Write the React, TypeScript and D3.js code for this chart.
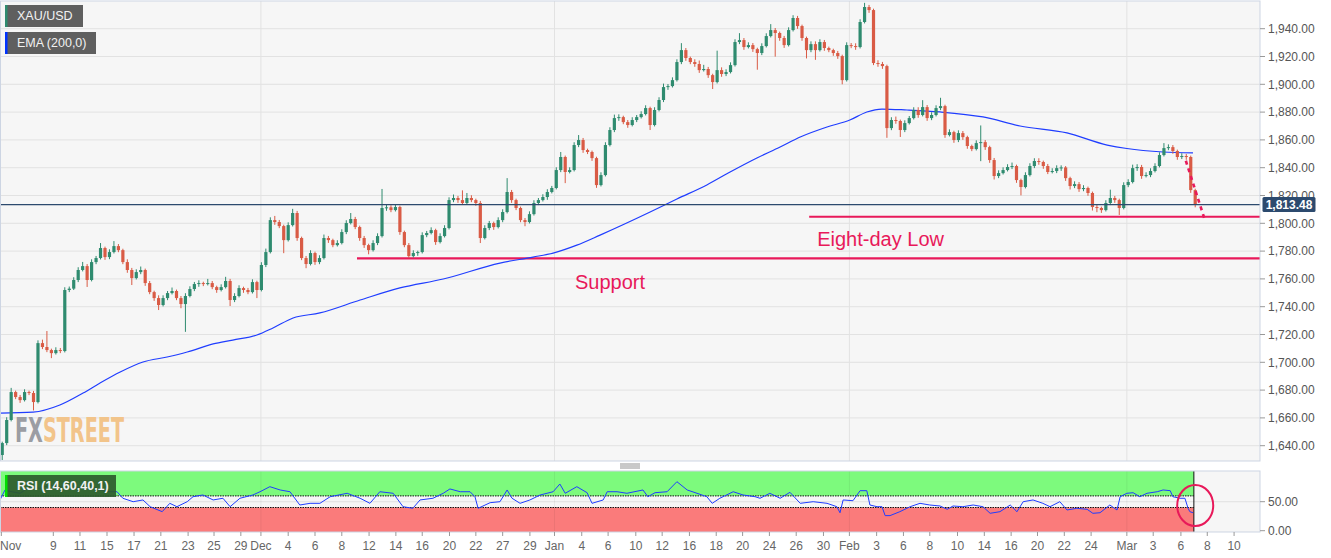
import React from 'react';
import * as d3 from 'd3';

// ---------- DATA ----------
const firstOpen = 1633.3;
const closes = [
  1641.9, 1658.5, 1678.6, 1675.0, 1672.8, 1678.6, 1677.9, 1671.4, 1713.8, 1711.0,
  1708.8, 1706.6, 1708.8, 1708.1, 1752.0, 1753.0, 1759.2, 1766.4, 1769.2, 1759.2,
  1772.1, 1775.0, 1782.2, 1775.7, 1779.3, 1783.6, 1780.7, 1772.1, 1766.4, 1760.6,
  1764.9, 1766.4, 1757.0, 1750.5, 1746.2, 1741.2, 1746.2, 1749.8, 1751.3, 1746.2,
  1741.9, 1747.7, 1752.7, 1756.3, 1757.0, 1756.3, 1757.0, 1754.1, 1752.0, 1754.1,
  1758.5, 1744.8, 1747.7, 1753.4, 1752.0, 1750.5, 1757.7, 1752.0, 1770.0, 1779.3,
  1802.3, 1800.9, 1798.0, 1787.9, 1798.7, 1807.4, 1789.4, 1775.0, 1770.7, 1778.6,
  1772.1, 1775.0, 1789.4, 1787.9, 1784.3, 1785.8, 1793.7, 1800.2, 1803.1, 1797.3,
  1789.4, 1784.3, 1780.7, 1785.8, 1790.8, 1811.0, 1811.5, 1809.5, 1811.7, 1793.7,
  1784.3, 1776.4, 1778.6, 1779.3, 1791.5, 1793.0, 1795.1, 1786.5, 1790.8, 1796.6,
  1816.7, 1818.2, 1816.7, 1814.6, 1818.2, 1816.7, 1814.6, 1789.4, 1796.6, 1800.2,
  1797.3, 1802.3, 1808.1, 1822.5, 1816.7, 1811.0, 1802.3, 1800.9, 1806.6, 1814.6,
  1816.7, 1818.9, 1822.5, 1825.4, 1838.3, 1847.7, 1836.9, 1838.3, 1856.3, 1859.9,
  1852.7, 1851.3, 1846.9, 1827.5, 1834.7, 1856.3, 1867.1, 1875.7, 1876.4, 1872.8,
  1870.7, 1874.3, 1876.4, 1878.6, 1882.9, 1870.7, 1881.5, 1888.7, 1898.0, 1898.7,
  1903.0, 1916.0, 1924.6, 1918.9, 1916.0, 1914.6, 1910.2, 1911.0, 1906.6, 1901.6,
  1910.2, 1907.4, 1908.8, 1913.8, 1930.4, 1931.8, 1926.8, 1928.2, 1925.3, 1922.5,
  1927.5, 1934.7, 1939.0, 1936.9, 1933.3, 1928.2, 1939.0, 1947.7, 1941.9, 1933.3,
  1924.6, 1928.9, 1924.6, 1930.4, 1926.1, 1924.6, 1922.5, 1920.3, 1903.0, 1928.2,
  1927.5, 1926.8, 1944.8, 1955.6, 1953.4, 1915.3, 1914.6, 1913.1, 1868.5, 1874.3,
  1873.6, 1867.1, 1872.1, 1875.7, 1881.5, 1877.9, 1883.6, 1875.7, 1877.9, 1882.9,
  1884.3, 1863.5, 1865.6, 1859.9, 1864.9, 1862.0, 1855.6, 1853.4, 1857.7, 1858.4,
  1854.8, 1845.5, 1834.0, 1836.1, 1838.3, 1840.5, 1841.2, 1831.1, 1826.1, 1834.7,
  1841.2, 1844.8, 1844.1, 1841.2, 1836.9, 1837.6, 1839.7, 1840.2, 1832.5, 1826.8,
  1828.2, 1824.6, 1825.4, 1821.8, 1811.7, 1811.0, 1809.5, 1814.6, 1818.2, 1816.7,
  1811.0, 1827.5, 1829.7, 1839.7, 1840.5, 1834.0, 1834.7, 1837.6, 1841.2, 1849.1,
  1854.1, 1854.8, 1852.0, 1847.7, 1848.4, 1847.7, 1823.9, 1813.5,
];
const wickUp = [
  1, 2, 3, 1, 1.5, 2, 1, 1.5, 2, 2.5, 11.5, 1, 2, 1.5, 2, 1.5, 2, 2, 3, 1.5,
  2, 1.5, 3.6, 1, 2, 3.6, 1.5, 1, 2, 1.5, 2, 2.5, 1, 1.5, 1, 2, 2, 1.5, 2.5, 1,
  1.5, 2, 2, 1.5, 2, 1, 3, 1.5, 1, 2, 3, 1.5, 2, 2, 1, 1.5, 2, 1, 2, 2.5,
  2, 3, 1.5, 1, 2, 3, 1.5, 1, 1.5, 2, 1, 2, 2.5, 1.5, 1, 2, 2, 2, 4.3, 1.5,
  1, 1.5, 1, 2, 2, 13.7, 2, 1.5, 2, 1, 1, 1.5, 2, 1, 2, 1.5, 2, 1, 2, 2,
  2, 2.5, 1.5, 7, 3.6, 2, 1, 1.5, 2, 1.5, 1, 2, 2, 10, 1.5, 1, 1, 1.5, 2, 2,
  1.5, 2, 2, 1.5, 2, 3.6, 1, 2, 2, 3.6, 1.5, 1, 1, 1, 2, 2, 2, 2.5, 2, 1,
  1.5, 2, 1.5, 2, 2, 1, 2, 2, 2.5, 1.5, 2, 2, 5, 1.5, 1, 2, 2.5, 3, 1.5, 1,
  14, 2, 2, 2, 2, 5, 1.5, 2, 1.5, 1, 2, 2, 4.3, 1.5, 1, 1.5, 2, 2, 1.5, 1,
  1, 2, 2, 2, 1.5, 1, 1, 1.5, 1, 2, 1.5, 2, 2, 3, 1.5, 1, 2, 1.5, 1, 2,
  2.5, 1, 2, 1.5, 2, 2, 5, 1.5, 2, 2, 6, 1, 2, 1, 2, 1.5, 1, 1, 2, 12,
  1.5, 1, 1.5, 2, 2, 2, 2.5, 1, 1, 2, 2, 2, 2, 1, 1.5, 2, 2, 1.5, 1, 1,
  2, 1.5, 2, 1, 1, 1.5, 1, 2, 6, 1.5, 1, 2, 2, 2.5, 2, 1.5, 2, 2, 2, 2,
  3.6, 2, 1.5, 1, 2, 1.5, 1, 1,
];
const wickDn = [
  3.6, 1.5, 1, 1.5, 2, 1, 1.5, 6, 1, 1.5, 1.5, 3.6, 1, 1.5, 1, 1.5, 1, 1.5, 1, 5,
  1, 1.5, 1, 2, 1.5, 1, 1.5, 1.5, 2, 5, 1, 1.5, 2, 1.5, 2, 3.6, 1, 1.5, 1, 1.5,
  3, 20, 1, 1.5, 2, 1.5, 1, 1.5, 2, 1, 1, 4.3, 1.5, 1, 2, 1.5, 1, 5.8, 1, 1.5,
  1, 2, 1.5, 9.4, 1, 1, 2, 1.5, 3, 1, 2, 1.5, 1, 2, 1.5, 1, 1, 1.5, 1, 1.5,
  2, 2, 3, 1, 1.5, 1, 2, 1.5, 1, 2, 1.5, 1.5, 1, 2, 1, 1.5, 1, 2, 1, 1,
  1, 1.5, 2, 1, 1, 1.5, 2, 3.6, 1, 1.5, 2, 1, 1.5, 1, 2, 1.5, 1.5, 3, 1, 1,
  1.5, 1, 2, 1, 1, 1.5, 8, 1, 1, 1.5, 2, 1.5, 2, 2, 1, 1, 1, 1.5, 2, 1.5,
  2, 1, 1.5, 1, 1, 3.6, 1, 1, 1.5, 2, 1, 1, 1.5, 2, 1.5, 2, 2, 1, 2, 5,
  1, 2, 1.5, 1, 1, 1.5, 2, 1, 2, 12, 1.5, 1, 1, 17, 2, 2, 1, 1, 2, 2,
  6, 1.5, 7, 1, 2, 1.5, 2, 2, 3, 1, 1.5, 2, 1, 1, 2, 1.5, 2, 2, 7, 1.5,
  2, 5, 1.5, 1, 1, 2, 1, 2, 1.5, 1, 1.5, 2, 1, 2, 1.5, 2, 2, 1.5, 1, 13,
  2, 2, 2.5, 1.5, 1, 1, 1.5, 2, 6, 1, 1, 1.5, 2, 2, 1.5, 1, 1.5, 2, 2, 2.5,
  1.5, 2, 1.5, 2, 2.5, 3, 2, 1, 1.5, 2, 5, 1, 1.5, 1, 2, 2, 1, 1.5, 1, 1,
  1, 1.5, 2, 2, 1.5, 2, 2, 2,
];

// EMA (200) sampled along the time axis (u = time position, p = price)
const emaU = [0, 7.4, 13.4, 18.6, 22.4, 26.9, 32.0, 37.4, 41.9, 47.7, 52.1, 57.5, 61.1, 65.6, 71.6, 80.6, 89.5, 99.2, 111.9, 119.3, 123.8, 129.1, 134.3, 145.5, 151.5, 158.2, 163.4, 169.4, 174.6, 179.1, 185.1, 190.2, 194.0, 197.4, 203.0, 210.4, 220.0, 228.3, 238.8, 247.8, 252.2, 260.3, 267.0];
const emaP = [1663.5, 1664.2, 1669.3, 1677.9, 1685.1, 1693.0, 1700.2, 1703.8, 1707.4, 1713.2, 1716.0, 1719.6, 1724.7, 1731.9, 1735.5, 1744.8, 1753.5, 1759.9, 1771.4, 1775.7, 1778.6, 1784.3, 1791.5, 1808.1, 1817.5, 1827.6, 1836.9, 1847.0, 1854.9, 1862.1, 1869.3, 1874.3, 1880.1, 1882.2, 1881.5, 1880.1, 1876.5, 1870.0, 1865.0, 1856.3, 1853.8, 1851.3, 1850.6];

// RSI (14)
const rsiU = [0, 1.1, 2.2, 4.5, 6.7, 9.0, 11.2, 13.4, 15.7, 17.9, 20.1, 22.4, 24.6, 26.2, 27.5, 29.8, 32.0, 33.6, 36.3, 38.0, 39.6, 41.9, 43.2, 45.4, 47.7, 49.9, 51.5, 53.7, 56.6, 58.2, 60.4, 62.7, 64.9, 67.1, 69.4, 71.6, 73.9, 77.7, 80.6, 82.8, 85.0, 88.0, 90.2, 92.4, 94.0, 96.9, 99.2, 100.7, 103.0, 105.2, 106.3, 107.0, 109.7, 111.9, 113.5, 114.6, 116.4, 118.6, 120.9, 123.8, 125.3, 126.5, 129.1, 131.4, 132.5, 135.0, 135.9, 138.1, 140.3, 143.9, 145.0, 146.6, 149.3, 151.5, 153.8, 156.0, 158.2, 159.4, 161.1, 164.1, 166.3, 169.0, 170.1, 172.3, 174.6, 176.8, 179.1, 182.0, 185.1, 187.3, 188.0, 188.7, 190.9, 192.5, 194.0, 194.7, 196.3, 197.4, 198.1, 199.2, 201.4, 203.7, 205.9, 208.1, 210.4, 212.0, 213.3, 215.5, 217.8, 220.0, 221.6, 223.8, 226.1, 227.6, 229.0, 231.2, 233.4, 235.0, 237.2, 238.8, 241.0, 243.3, 244.6, 246.2, 248.4, 250.0, 250.7, 252.2, 253.6, 255.1, 256.7, 259.0, 260.3, 261.9, 262.5, 264.1, 265.2, 265.9, 266.3, 267.0];
const rsiV = [53, 70, 67.8, 64.5, 75.9, 73, 78.8, 75.9, 78.8, 73, 78.8, 70.2, 67.2, 67.2, 55.9, 50, 53, 41.4, 32.8, 47.2, 41.4, 50, 58.6, 61.6, 53, 55.9, 41.4, 55.9, 61.6, 67.2, 75.9, 70.2, 67.2, 44.3, 47.2, 47.2, 58.6, 64.5, 55.9, 47.2, 67.2, 64.5, 41.4, 38.6, 53, 55.9, 64.5, 72, 67.2, 67.2, 58.6, 38.6, 48.3, 50, 70.2, 55.9, 47.2, 53, 61.6, 67.2, 80.5, 64.5, 75.9, 65.5, 47.2, 53, 67.2, 67.2, 64.5, 70.2, 58.6, 65.5, 67.2, 84.5, 70.2, 64.5, 58.6, 47.2, 55.9, 67.2, 61.6, 58.6, 55.9, 64.5, 55.9, 66.2, 47.2, 50, 47.2, 41.4, 31, 53, 51.7, 69, 69, 44.3, 41.4, 41.4, 26, 26, 32.8, 41.4, 47.2, 44.3, 42.6, 36.9, 42.6, 41.4, 44.3, 41.4, 30, 32.8, 44.3, 32.8, 50, 53, 47.2, 41.4, 50, 35.7, 38.6, 36.9, 30, 31, 44.3, 35.7, 58.6, 64.5, 65.5, 58.6, 64.5, 67.2, 70.2, 69, 58.6, 55.9, 55.9, 38.6, 32.8, 31];

const priceTicks = [1640, 1660, 1680, 1700, 1720, 1740, 1760, 1780, 1800, 1820, 1840, 1860, 1880, 1900, 1920, 1940];
const rsiTicks = [0, 50];
const xTickLabels = ['Nov', '9', '11', '15', '17', '21', '23', '25', '29', 'Dec', '4', '6', '8', '12', '14', '16', '20', '22', '27', '29', 'Jan', '4', '6', '10', '12', '16', '18', '20', '24', '26', '30', 'Feb', '3', '6', '8', '10', '14', '16', '20', '22', '24', 'Mar', '3', '6', '8', '10'];
const xTickU = [0.3, 11.93, 17.9, 23.95, 30.0, 36.0, 42.1, 47.9, 53.9, 58.4, 64.5, 70.5, 76.5, 82.6, 88.6, 94.5, 100.6, 106.5, 112.5, 118.6, 124.1, 130.2, 136.1, 142.3, 148.2, 154.3, 160.3, 166.2, 172.2, 178.2, 184.3, 190.1, 196.2, 202.2, 208.1, 214.3, 220.3, 226.3, 232.2, 238.2, 244.2, 252.2, 258.1, 264.3, 270.2, 276.2];
const monthLabels = ['Dec', 'Jan', 'Feb', 'Mar'];

const lastPrice = 1813.48;
const eightDayLow = 1804.7;
const eightDayStartU = 181.1;
const supportLevel = 1774.8;
const supportStartU = 79.9;
const projU = [265.4, 269.5];
const projP = [1845, 1804];
const circleU = 267.5;
const circleRsi = 43.4;
const rsiEndU = 267.2;

// ---------- COMPONENT ----------
const FONT = 'Liberation Sans, Arial, Helvetica, sans-serif';
const GREEN = '#2f8b6f';
const RED = '#d95b45';
const ANN = '#e8195a';

export default function App() {
  const plotR = 1260;
  const mainTop = 1, mainBottom = 461;
  const rsiTop = 471, rsiBottom = 532;

  const x = d3.scaleLinear().domain([0, 282]).range([0, plotR]);
  const y = d3.scaleLinear().domain([1640, 1940]).range([445.7, 28.7]);
  const yr = d3.scaleLinear().domain([0, 100]).range([530.7, 472.7]);

  const candles = closes.map((c, i) => {
    const o = i === 0 ? firstOpen : closes[i - 1];
    return { i, o, c, h: Math.max(o, c) + wickUp[i], l: Math.min(o, c) - wickDn[i] };
  });

  const emaLine = d3.line<number>().x((_, i) => x(emaU[i])).y((d) => y(d)).curve(d3.curveMonotoneX)(emaP) || '';
  const rsiLine = d3.line<number>().x((_, i) => x(rsiU[i])).y((d) => yr(d))(rsiV) || '';

  const bw = 3.2;
  const fmt = d3.format(',.2f');
  const xEnd = x(rsiEndU);

  return (
    <svg width={1331} height={558} style={{ position: 'absolute', left: 0, top: 0, background: '#fff' }} fontFamily={FONT}>
      <defs>
        <clipPath id="mainClip"><rect x={0} y={mainTop} width={plotR} height={mainBottom - mainTop} /></clipPath>
        <clipPath id="rsiClip"><rect x={0} y={rsiTop} width={plotR} height={rsiBottom - rsiTop} /></clipPath>
      </defs>

      {/* main panel background */}
      <rect x={0} y={mainTop} width={plotR} height={mainBottom - mainTop} fill="#f6f6f6" />
      {priceTicks.map((p) => (
        <line key={p} x1={0} x2={plotR} y1={y(p)} y2={y(p)} stroke="#e2e2e2" strokeWidth={1} />
      ))}
      {xTickLabels.map((lab, k) => monthLabels.includes(lab) ? (
        <line key={'mv' + k} x1={x(xTickU[k])} x2={x(xTickU[k])} y1={mainTop} y2={mainBottom} stroke="#e2e2e2" />
      ) : null)}

      {/* watermark */}
      <text x={15} y={442} fontFamily="Liberation Sans Narrow, DejaVu Sans Condensed, sans-serif" fontWeight="bold" fontSize={34} textLength={109} lengthAdjust="spacingAndGlyphs">
        <tspan fill="#9b9da3">FX</tspan><tspan fill="#f2c48a">STREET</tspan>
      </text>

      <g clipPath="url(#mainClip)">
        {/* annotation lines */}
        <line x1={x(supportStartU)} x2={plotR} y1={y(supportLevel)} y2={y(supportLevel)} stroke={ANN} strokeWidth={2.2} />
        <line x1={x(eightDayStartU)} x2={plotR} y1={y(eightDayLow)} y2={y(eightDayLow)} stroke={ANN} strokeWidth={2.2} />

        {/* EMA */}
        <path d={emaLine} fill="none" stroke="#1f3dff" strokeWidth={1.2} />

        {/* candles */}
        {candles.map((d) => {
          const cx = x(d.i + 0.5);
          const col = d.c >= d.o ? GREEN : RED;
          const top = y(Math.max(d.o, d.c));
          const bot = y(Math.min(d.o, d.c));
          return (
            <g key={d.i}>
              <line x1={cx} x2={cx} y1={y(d.h)} y2={y(d.l)} stroke={col} strokeWidth={1} />
              <rect x={cx - bw / 2} y={top} width={bw} height={Math.max(1, bot - top)} fill={col} />
            </g>
          );
        })}

        {/* current price line */}
        <line x1={0} x2={plotR} y1={y(lastPrice)} y2={y(lastPrice)} stroke="#2c4a6e" strokeWidth={1.3} />

        {/* projection */}
        <line x1={x(projU[0])} y1={y(projP[0])} x2={x(projU[1])} y2={y(projP[1])} stroke={ANN} strokeWidth={2.6} strokeDasharray="4,4" />
      </g>

      {/* annotation texts */}
      <text x={x(182.9)} y={y(1783.7)} fill={ANN} fontSize={20}>Eight-day Low</text>
      <text x={x(128.7)} y={y(1752.7)} fill={ANN} fontSize={20}>Support</text>

      {/* main panel border */}
      <rect x={0.5} y={mainTop} width={plotR - 0.5} height={mainBottom - mainTop} fill="none" stroke="#cdd5e3" />

      {/* price axis */}
      {priceTicks.map((p) => (
        <g key={'pl' + p}>
          <line x1={plotR} x2={plotR + 5} y1={y(p)} y2={y(p)} stroke="#999" />
          <text x={plotR + 8} y={y(p)} dy="0.35em" fontSize={12} fill="#555">{fmt(p)}</text>
        </g>
      ))}
      <rect x={1262.5} y={y(lastPrice) - 7.5} width={53} height={15} fill="#2c4a6e" rx={1.5} />
      <text x={1289} y={y(lastPrice)} dy="0.36em" textAnchor="middle" fontSize={12} fontWeight="bold" fill="#fff">{fmt(lastPrice)}</text>

      {/* legends */}
      <rect x={5} y={5} width={78} height={22} fill="#5f5f5f" />
      <rect x={5} y={5} width={2.5} height={22} fill={GREEN} />
      <text x={17} y={16} dy="0.35em" fontSize={12.5} fill="#f2f2f2">XAU/USD</text>
      <rect x={5} y={32} width={91} height={22} fill="#5f5f5f" />
      <rect x={5} y={32} width={2.5} height={22} fill="#0033ff" />
      <text x={17} y={43} dy="0.35em" fontSize={12.5} fill="#f2f2f2">EMA (200,0)</text>

      {/* panel separator handle */}
      {[464, 466, 468].map((yy) => (
        <line key={yy} x1={620} x2={640} y1={yy} y2={yy} stroke="#777" strokeWidth={0.8} />
      ))}

      {/* RSI panel */}
      <rect x={0} y={rsiTop} width={plotR} height={rsiBottom - rsiTop} fill="#f6f6f6" />
      <line x1={0} x2={plotR} y1={yr(50)} y2={yr(50)} stroke="#e0e0e0" />
      <g clipPath="url(#rsiClip)">
        <rect x={0} y={rsiTop} width={xEnd} height={yr(60) - rsiTop} fill="#7dfa7d" />
        <rect x={0} y={yr(40)} width={xEnd} height={rsiBottom - yr(40)} fill="#fa7b7b" />
        <line x1={0} x2={xEnd} y1={yr(60)} y2={yr(60)} stroke="#111" strokeDasharray="1.5,1" strokeWidth={1} />
        <line x1={0} x2={xEnd} y1={yr(40)} y2={yr(40)} stroke="#111" strokeDasharray="1.5,1" strokeWidth={1} />
        <line x1={xEnd} x2={xEnd} y1={rsiTop} y2={rsiBottom} stroke="#111" />
        <line x1={0.5} x2={0.5} y1={rsiTop} y2={rsiBottom} stroke="#333" />
        {xTickLabels.map((lab, k) => monthLabels.includes(lab) ? (
          <line key={'rv' + k} x1={x(xTickU[k])} x2={x(xTickU[k])} y1={rsiTop} y2={rsiBottom} stroke="#000" strokeOpacity={0.06} />
        ) : null)}
        <path d={rsiLine} fill="none" stroke="#1f3dff" strokeWidth={1} />
      </g>
      <rect x={0.5} y={rsiTop} width={plotR - 0.5} height={rsiBottom - rsiTop} fill="none" stroke="#cdd5e3" />
      <ellipse cx={x(circleU)} cy={yr(circleRsi)} rx={18} ry={20.5} fill="none" stroke={ANN} strokeWidth={2} />

      {/* RSI legend */}
      <rect x={5} y={475} width={111} height={22} fill="#2c5a2c" fillOpacity={0.92} />
      <rect x={5} y={475} width={2.5} height={22} fill="#00dd00" />
      <text x={17} y={486} dy="0.35em" fontSize={12.5} fontWeight="bold" fill="#f2f2f2">RSI (14,60,40,1)</text>

      {/* RSI axis */}
      {rsiTicks.map((v) => (
        <g key={'rt' + v}>
          <line x1={plotR} x2={plotR + 5} y1={yr(v)} y2={yr(v)} stroke="#999" />
          <text x={plotR + 8} y={yr(v)} dy="0.35em" fontSize={12} fill="#555">{fmt(v)}</text>
        </g>
      ))}

      {/* time axis */}
      {xTickLabels.map((lab, k) => {
        const tx = x(xTickU[k]);
        return (
          <g key={'xt' + k}>
            <line x1={tx} x2={tx} y1={rsiBottom} y2={rsiBottom + 4} stroke="#999" />
            <text x={k === 0 ? 0 : tx} y={546} dy="0.35em" textAnchor={k === 0 ? 'start' : 'middle'} fontSize={12} fill="#666">{lab}</text>
          </g>
        );
      })}
    </svg>
  );
}
